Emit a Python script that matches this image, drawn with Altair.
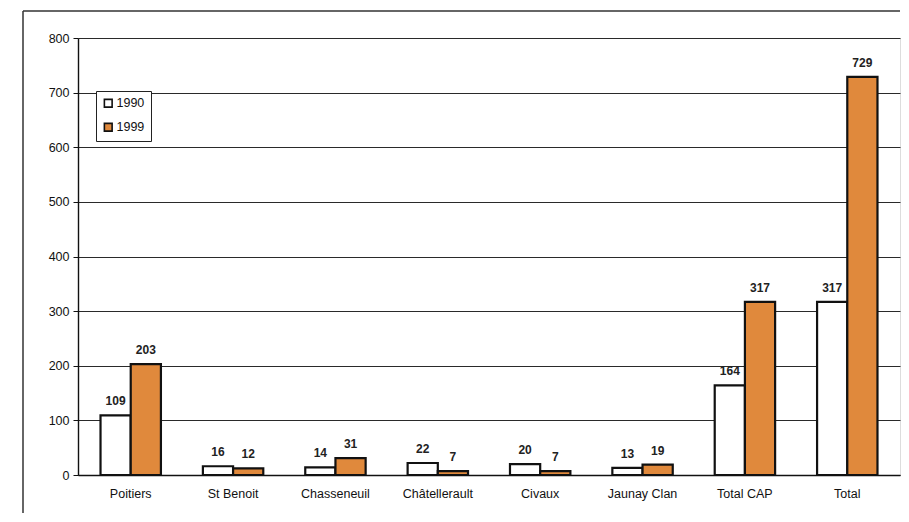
import altair as alt
import pandas as pd

categories = ["Poitiers", "St Benoit", "Chasseneuil", "Châtellerault",
              "Civaux", "Jaunay Clan", "Total CAP", "Total"]
years = ["1990", "1999"]
values_1990 = [109, 16, 14, 22, 20, 13, 164, 317]
values_1999 = [203, 12, 31, 7, 7, 19, 317, 729]
y_ticks = [0, 100, 200, 300, 400, 500, 600, 700, 800]

rows = []
for c, a, b in zip(categories, values_1990, values_1999):
    rows.append({"cat": c, "year": years[0], "value": a})
    rows.append({"cat": c, "year": years[1], "value": b})
df = pd.DataFrame(rows)

W, H = 822, 437
FONT = "Liberation Sans"

x_enc = alt.X("cat:N", sort=categories, title=None,
              scale=alt.Scale(paddingInner=0.41, paddingOuter=0.22),
              axis=alt.Axis(labelAngle=0, labelFontSize=12.5, labelColor="#111",
                            labelFont=FONT, tickSize=0, labelPadding=12,
                            domainColor="#111", domainWidth=1.4))
xo_enc = alt.XOffset("year:N", sort=years)
y_enc = alt.Y("value:Q", title=None,
              scale=alt.Scale(domain=[0, 800], nice=False),
              axis=alt.Axis(values=y_ticks, labelFontSize=12.5, labelColor="#111",
                            labelFont=FONT, tickSize=5, tickColor="#111",
                            labelPadding=4, domainColor="#111", domainWidth=1.4,
                            grid=True, gridColor="#2a2a2a", gridWidth=1.1))

bars = alt.Chart(df).mark_bar(stroke="#111", strokeWidth=2.2).encode(
    x=x_enc, xOffset=xo_enc, y=y_enc,
    fill=alt.Fill("year:N", sort=years,
                  scale=alt.Scale(domain=years, range=["#ffffff", "#E0893C"]),
                  legend=alt.Legend(title=None, orient="none", legendX=18, legendY=53,
                                    strokeColor="#222", fillColor="#ffffff", padding=6,
                                    labelFontSize=12.5, labelFont=FONT, labelColor="#111",
                                    symbolType="square", symbolSize=60,
                                    symbolStrokeColor="#111", symbolStrokeWidth=1.6,
                                    rowPadding=9, labelOffset=2)),
)

labels = alt.Chart(df).mark_text(baseline="bottom", dy=-7, fontSize=12,
                                 fontWeight="bold", font=FONT, color="#222").encode(
    x=alt.X("cat:N", sort=categories), xOffset=xo_enc,
    y=alt.Y("value:Q"), text=alt.Text("value:Q"),
)

one = pd.DataFrame({"k": [0]})
frame_left = alt.Chart(one).mark_rule(color="#333", strokeWidth=1.5).encode(
    x=alt.value(-55), y=alt.value(-27), y2=alt.value(H + 38))
frame_top = alt.Chart(one).mark_rule(color="#333", strokeWidth=1.5).encode(
    x=alt.value(-55), x2=alt.value(W), y=alt.value(-27))

chart = alt.layer(bars, labels, frame_left, frame_top).properties(
    width=W, height=H,
    padding={"left": 14, "top": 2, "right": 0, "bottom": 0},
).configure_view(stroke="#999", strokeWidth=1).configure(background="#ffffff")

chart.save("out.html", embed_options={"renderer": "svg", "actions": False})
